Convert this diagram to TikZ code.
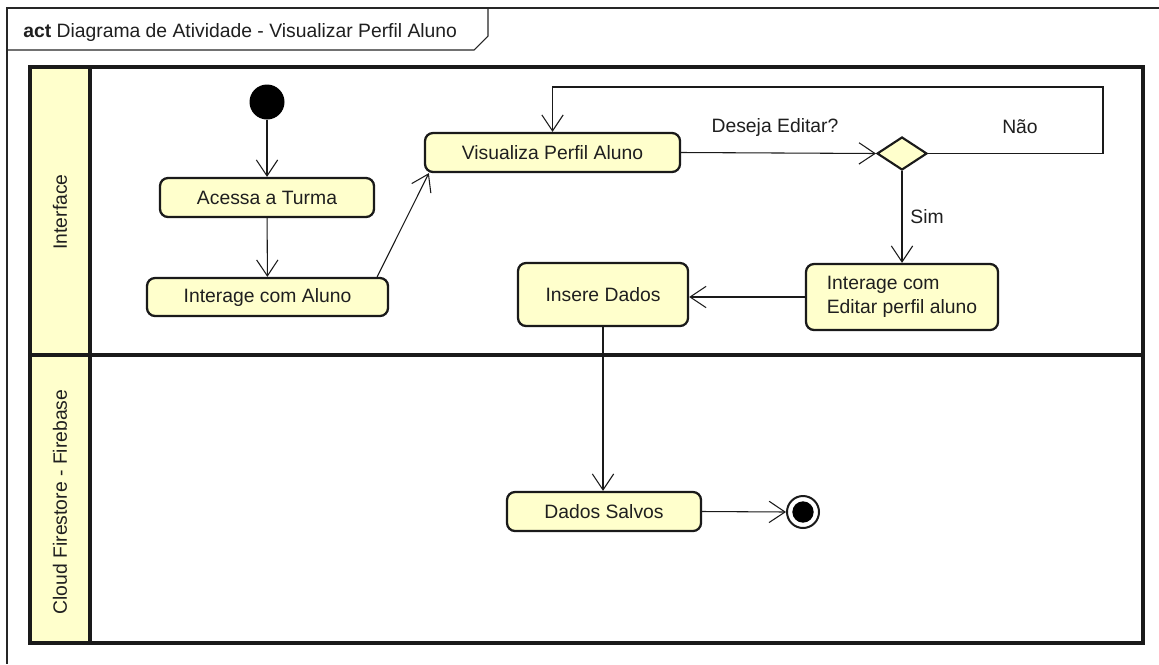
\documentclass[tikz,border=0pt]{standalone}
\usepackage{fontspec}
\setmainfont{Liberation Sans}
\usetikzlibrary{arrows.meta,shapes.geometric,calc}
\definecolor{actfill}{HTML}{FFFFCC}
\definecolor{lineclr}{HTML}{1A1A1A}
\begin{document}
\begin{tikzpicture}[x=0.75pt,y=-0.75pt,
  every node/.style={font=\fontsize{14.5}{18}\selectfont, text=black!88},
  action/.style={draw=lineclr, line width=1.7pt, fill=actfill, rounded corners=6pt, inner sep=0pt},
  flow/.style={draw=lineclr, line width=0.8pt, -{Straight Barb[length=12pt,width=16pt,line width=0.8pt]}},
  lane/.style={draw=lineclr, line width=2.7pt},
  frameline/.style={draw=black!85, line width=0.8pt}
]
\useasboundingbox (0,0) rectangle (1159,664);
\fill[white] (0,0) rectangle (1159,664);

% diagram frame and its title tab
\draw[frameline] (1159,8) -- (7,8) -- (7,664);
\draw[frameline] (7,50) -- (474,50) -- (488,36) -- (488,8);
\node[anchor=base west, inner sep=0pt] (title) at (23,37) {\textbf{act} Diagrama de Atividade - Visualizar Perfil Aluno};

% swimlanes
\fill[actfill] (30,67) rectangle (90,643);
\draw[lane] (30,67) rectangle (1143,643);
\draw[lane] (90,67) -- (90,643);
\draw[lane] (30,355) -- (1143,355);
\node[rotate=90] (laneA) at (60,212) {Interface};
\node[rotate=90] (laneB) at (60,502) {Cloud Firestore - Firebase};

% initial and final nodes
\node[circle, fill=black, minimum size=26.25pt, inner sep=0pt] (start) at (267,102) {};
\node[circle, draw=lineclr, line width=1.5pt, fill=white, minimum size=24pt, inner sep=0pt] (fin) at (803,512) {};
\node[circle, fill=black, minimum size=16pt, inner sep=0pt] (finin) at (803,512) {};

% actions
\node[action, minimum width=160.5pt, minimum height=29.25pt] (acc) at (267,197.5) {Acessa a Turma};
\node[action, minimum width=180.75pt, minimum height=28.5pt] (ia) at (267.5,297) {Interage com Aluno};
\node[action, minimum width=191.25pt, minimum height=29.25pt] (vis) at (552.5,152.5) {Visualiza Perfil Aluno};
\node[action, minimum width=144pt, minimum height=49.5pt, align=left] (ed) at (902,297) {Interage com\\Editar perfil aluno};
\node[action, minimum width=127.5pt, minimum height=47.25pt] (ins) at (603,294.5) {Insere Dados};
\node[action, minimum width=145.5pt, minimum height=29.25pt] (ds) at (604,511.5) {Dados Salvos};

% decision
\node[diamond, draw=lineclr, line width=1.6pt, fill=actfill, minimum width=37.5pt, minimum height=24.75pt, inner sep=0pt] (dec) at (902,153.5) {};

% control flows
\draw[flow] (start) -- (acc);
\draw[flow] (acc) -- (ia);
\draw[flow] ($(ia.north east)+(-12,0)$) -- ($(vis.south west)+(5,0)$);
\draw[flow] (vis.east) -- (dec.west);
\coordinate (loopc) at (1103,87);
\draw[flow] (dec.east) -| (loopc) -| (vis.north);
\draw[flow] (dec.south) -- (ed.north);
\draw[flow] (ed.west) -- (ed.west -| ins.east);
\draw[flow] (ins.south) -- (ins.south |- ds.north);
\draw[flow] (ds.east) -- (fin.west);

% guard labels
\node (qlbl) at (775,127) {Deseja Editar?};
\node (nao) at (1020,127) {Não};
\node (sim) at (927,217) {Sim};
\end{tikzpicture}
\end{document}
